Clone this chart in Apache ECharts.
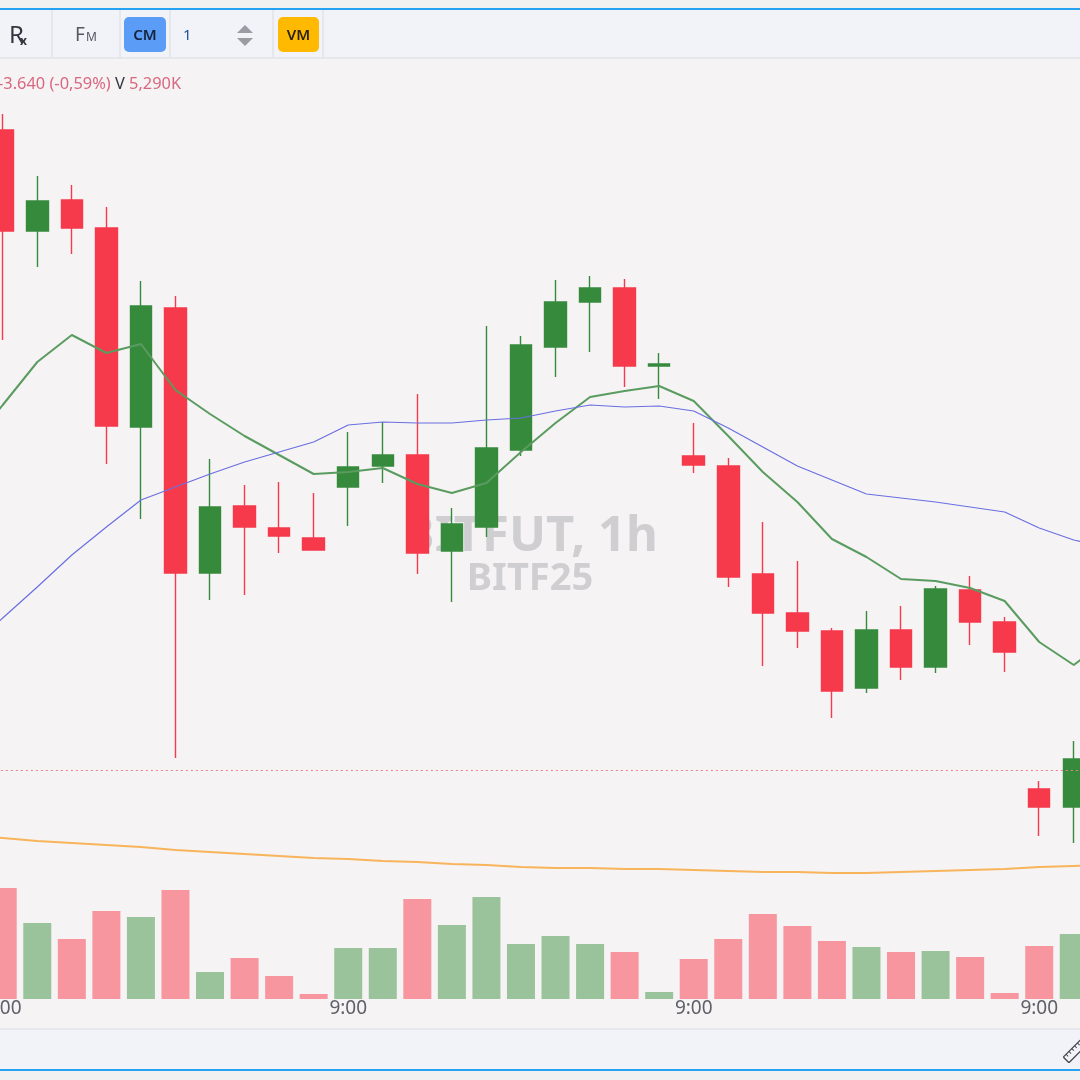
<!DOCTYPE html>
<html>
<head>
<meta charset="utf-8">
<title>BITF25</title>
<script src="https://cdn.jsdelivr.net/npm/echarts@6/dist/echarts.min.js"></script>
<style>
    html, body { margin: 0; padding: 0; background: #f1f1f1; }
    #chart { width: 1080px; height: 1080px; }
</style>
</head>
<body>
<div id="chart"></div>
<script>
    // tick labels on the time axis, one entry per hourly bar
    // first and last slots are the bars just off the picture, only the moving averages show there
    const categories = ['','9:00','','','','','','','','','',
        '9:00','','','','','','','','','',
        '9:00','','','','','','','','','',
        '9:00','','']

    const opens  = ['-',678.9,668.8,671.9,669.1,649.2,661.1,634.6,641.3,639.1,638.1,643.2,645.3,646.4,636.8,639.2,646.9,
        657.2,661.7,663.1,655.3,646.3,645.3,634.5,630.6,628.8,623.1,628.9,625.2,632.9,629.7,613.0,611.2]
    const closes = ['-',668.8,671.8,669.1,649.3,661.3,634.6,641.2,639.2,638.3,636.9,645.2,646.4,636.6,639.5,647.1,657.4,
        661.7,663.1,655.3,655.5,645.4,634.2,630.6,628.8,622.8,628.9,625.2,633.0,629.7,626.7,611.2,616.0]
    const lows   = ['-',657.9,665.2,666.5,645.5,640.0,616.1,631.9,632.4,636.6,636.9,639.3,643.6,634.5,631.7,638.2,646.3,
        654.2,656.7,653.2,652.0,644.6,633.2,625.3,627.1,620.1,622.6,623.9,624.6,627.4,624.7,608.3,607.6]
    const highs  = ['-',680.5,674.3,673.4,671.2,663.8,662.3,646.0,643.4,643.7,642.6,648.7,649.7,652.5,641.1,659.3,658.3,
        663.9,664.3,664.0,656.6,649.6,646.1,639.7,635.8,629.1,630.8,631.3,633.3,634.3,630.2,613.8,617.8]

    const maGreen = [647.0,651.4,655.7,658.4,656.6,657.5,652.9,650.5,648.3,646.4,644.5,644.7,645.1,643.5,642.6,643.6,646.7,
        649.6,652.2,652.8,653.3,651.8,648.3,644.7,641.7,638.0,636.2,634.0,633.8,633.1,631.8,627.7,625.4,628.0]
    const maBlue = [626.9,630.1,633.2,636.4,639.2,641.9,643.2,644.5,645.7,646.7,647.7,649.4,649.7,649.6,649.6,649.9,650.1,
        650.8,651.4,651.2,651.3,650.8,649.1,647.2,645.3,643.9,642.5,642.1,641.7,641.2,640.7,639.1,637.9,637.1]
    const maOrange = [608.3,608.1,607.8,607.6,607.4,607.2,606.9,606.7,606.5,606.3,606.1,606.0,605.8,605.7,605.5,605.4,605.2,
        605.1,605.1,605.0,605.0,604.9,604.8,604.7,604.7,604.6,604.6,604.7,604.8,604.9,605.0,605.2,605.3,605.4]

    // volume in K
    const volumes = ['-',11100,7600,6000,8800,8200,10900,2700,4100,2300,500,5100,5100,10000,7400,10200,5500,
        6300,5500,4700,700,4000,6000,8500,7300,5800,5200,4700,4800,4200,600,5290,6500]

    const lastPrice = 614.9

    const UP = '#368a3c', DOWN = '#f63a4b'
    const UP_VOL = '#9ac39c', DOWN_VOL = '#f7969f'
    const FONT = '"Noto Sans", sans-serif'

    const candleData = opens.map((o, i) => [o, closes[i], lows[i], highs[i]])
    const volumeData = volumes.map((v, i) => ({
        value: v,
        itemStyle: { color: closes[i] >= opens[i] ? UP_VOL : DOWN_VOL }
    }))

    function rect(x, y, width, height, fill, r) {
        return { type: 'rect', silent: true, shape: { x, y, width, height, r: r || 0 }, style: { fill } }
    }
    function label(x, y, text, fontSize, fill, extra) {
        return {
            type: 'text', silent: true, x, y,
            style: Object.assign({ text, fontSize, fill, fontFamily: FONT, verticalAlign: 'middle' }, extra || {})
        }
    }
    function triangle(points, fill) {
        return { type: 'polygon', silent: true, shape: { points }, style: { fill } }
    }

    // ruler icon, ticks along one long edge
    const rulerParts = [
        { type: 'rect', shape: { x: -14, y: -4, width: 28, height: 8, r: 1 }, style: { fill: 'none', stroke: '#44464e', lineWidth: 1.3 } }
    ]
    for (const tx of [-10, -6, -2, 2, 6, 10]) {
        rulerParts.push({ type: 'line', shape: { x1: tx, y1: -4, x2: tx, y2: -1 }, style: { stroke: '#44464e', lineWidth: 1 } })
    }

    const graphicElements = [
        // chart panel, toolbar and the blue window frame
        rect(0, 58, 1080, 972, '#f5f3f4'),
        rect(0, 10, 1080, 48, '#f1f3f8'),
        rect(0, 57, 1080, 2, '#e6e7ea'),
        rect(0, 1030, 1080, 39, '#f1f3f8'),
        rect(0, 1028, 1080, 2, '#e6e7ea'),
        rect(0, 8, 1080, 2, '#27a2f2'),
        rect(0, 1069, 1080, 2, '#27a2f2'),
        rect(51, 10, 2, 48, '#e6e7ea'),
        rect(119, 10, 2, 48, '#e6e7ea'),
        rect(169, 10, 2, 48, '#e6e7ea'),
        rect(272, 10, 2, 48, '#e6e7ea'),
        rect(322, 10, 2, 48, '#e6e7ea'),
        // toolbar buttons
        label(9, 36, 'R', 24, '#33363f'),
        label(20, 42, 'x', 12, '#33363f', { fontWeight: 'bold' }),
        label(75, 36, 'F', 19, '#555860'),
        label(86, 38, 'M', 12, '#555860'),
        rect(124, 17, 42, 35, '#5b9cf6', 5),
        label(145, 36, 'CM', 15, '#14243c', { align: 'center', fontWeight: 600 }),
        label(183, 36, '1', 15, '#1a5299'),
        triangle([[237, 33], [245, 25], [253, 33]], '#9a9ca4'),
        triangle([[237, 38], [253, 38], [245, 46]], '#9a9ca4'),
        rect(278, 17, 41, 35, '#ffb900', 5),
        label(298.5, 36, 'VM', 15, '#2a2410', { align: 'center', fontWeight: 600 }),
        // legend row, cut at the left edge
        label(-2, 84, '-3.640 (-0,59%)', 16.4, '#d9687f'),
        label(115, 84, 'V', 16.4, '#33363f'),
        label(129, 84, '5,290K', 16.4, '#d9687f'),
        // watermark behind the candles
        label(530, 537, 'BITFUT, 1h', 49, '#cfced1', { align: 'center', fontWeight: 'bold' }),
        label(530, 579, 'BITF25', 38, '#cfced1', { align: 'center', fontWeight: 'bold' }),
        { type: 'group', silent: true, x: 1076, y: 1050, rotation: Math.PI / 4, children: rulerParts }
    ]

    const chart = echarts.init(document.getElementById('chart'))
    chart.setOption({
        animation: false,
        backgroundColor: '#f1f1f1',
        graphic: { elements: graphicElements },
        grid: { left: -49.1, top: 59, width: 1174.7, height: 940, outerBoundsMode: 'none' },
        xAxis: {
            type: 'category',
            data: categories,
            axisLine: { show: false },
            axisTick: { show: false },
            axisLabel: { interval: 0, margin: 0, fontSize: 19, color: '#5f6068', fontFamily: FONT, hideOverlap: false },
            splitLine: { show: false }
        },
        yAxis: [
            { type: 'value', min: 592, max: 686, show: false },
            { type: 'value', min: 0, max: 94000, show: false }
        ],
        series: [
            {
                name: 'volume', type: 'bar', yAxisIndex: 1, barWidth: 28,
                data: volumeData, z: 2
            },
            {
                name: 'price', type: 'candlestick', barWidth: 22,
                data: candleData, z: 3,
                itemStyle: { color: UP, color0: DOWN, borderColor: UP, borderColor0: DOWN, borderWidth: 1.4 },
                markLine: {
                    silent: true, symbol: 'none', label: { show: false },
                    lineStyle: { color: '#ee7f8c', type: [2, 3], width: 1 },
                    data: [{ yAxis: lastPrice }]
                }
            },
            {
                name: 'ma green', type: 'line', data: maGreen, showSymbol: false, z: 4,
                lineStyle: { color: '#5a9c60', width: 2 }
            },
            {
                name: 'ma blue', type: 'line', data: maBlue, showSymbol: false, z: 4,
                lineStyle: { color: '#6a6fe0', width: 1.2 }
            },
            {
                name: 'ma orange', type: 'line', data: maOrange, showSymbol: false, z: 4,
                lineStyle: { color: '#f8b45a', width: 2 }
            }
        ]
    })
</script>
</body>
</html>
